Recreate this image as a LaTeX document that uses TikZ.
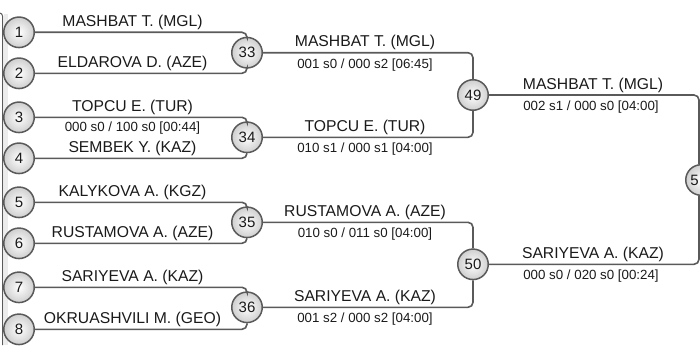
\documentclass[tikz,border=0pt]{standalone}
\usepackage{fontspec}
\setmainfont{Liberation Sans}
\usetikzlibrary{calc}
\definecolor{ln}{HTML}{5A5A5A}
\definecolor{tx}{HTML}{1A1A1A}
\begin{document}
\begin{tikzpicture}[x=1pt,y=-1pt,
  circ/.style={circle,draw=ln,line width=1.5pt,minimum size=30.5pt,inner sep=0pt,
    inner color=white,outer color=gray!38,font=\fontsize{15}{15}\selectfont,text=tx},
  conn/.style={draw=ln,line width=1.6pt,rounded corners=5pt},
  nm/.style={anchor=base,inner sep=0pt,font=\fontsize{15.7}{16}\selectfont,text=tx},
  sc/.style={anchor=base,inner sep=0pt,font=\fontsize{13.3}{14}\selectfont,text=tx},
  plain/.style={inner sep=0pt,font=\fontsize{15}{15}\selectfont,text=tx}]
\useasboundingbox (0,0) rectangle (700,345);
% left edge remnant
\fill[gray!15] (3.5,14) rectangle (8,345);
\draw[ln,line width=1pt,rounded corners=3pt] (0,13) -- (2.5,13) -- (2.5,345);
% seeds
\node[circ] (s1) at (19,32.3) {1};
\node[circ] (s2) at (19,73.3) {2};
\node[circ] (s3) at (19,117.3) {3};
\node[circ] (s4) at (19,158.3) {4};
\node[circ] (s5) at (19,202.3) {5};
\node[circ] (s6) at (19,243.3) {6};
\node[circ] (s7) at (19,287.3) {7};
\node[circ] (s8) at (19,329.3) {8};
% round 2
\node[circ] (m33) at (247,52.7) {33};
\node[circ] (m34) at (247,137.3) {34};
\node[circ] (m35) at (247,222.3) {35};
\node[circ] (m36) at (247,307.3) {36};
% round 3
\node[circ] (m49) at (473,95) {49};
\node[circ] (m50) at (473,264.3) {50};
% final (cropped)
\node[circ] (fin) at (701,180) {};
\node[plain] (fin5) at (694.5,180) {5};
% connectors
\draw[conn] (s1) -| (m33);
\draw[conn] (s2) -| (m33);
\draw[conn] (s3) -| (m34);
\draw[conn] (s4) -| (m34);
\draw[conn] (s5) -| (m35);
\draw[conn] (s6) -| (m35);
\draw[conn] (s7) -| (m36);
\draw[conn] (s8) -| (m36);
\draw[conn] (m33) -| (m49);
\draw[conn] (m34) -| (m49);
\draw[conn] (m35) -| (m50);
\draw[conn] (m36) -| (m50);
\draw[conn] (m49) -| ([xshift=-2pt]fin.north);
\draw[conn] (m50) -| ([xshift=-2pt]fin.south);
% seed names
\node[nm] (t1) at (132.5,26.3) {MASHBAT T. (MGL)};
\node[nm] (t2) at (132.5,67.3) {ELDAROVA D. (AZE)};
\node[nm] (t3) at (132.5,111.3) {TOPCU E. (TUR)};
\node[sc] (r34) at (132.5,131.8) {000 s0 / 100 s0 [00:44]};
\node[nm] (t4) at (132.5,152.3) {SEMBEK Y. (KAZ)};
\node[nm] (t5) at (132.5,196.3) {KALYKOVA A. (KGZ)};
\node[nm] (t6) at (132.5,237.3) {RUSTAMOVA A. (AZE)};
\node[nm] (t7) at (132.5,281.3) {SARIYEVA A. (KAZ)};
\node[nm] (t8) at (132.5,323.3) {OKRUASHVILI M. (GEO)};
% round 2 names and scores
\node[nm] (u33) at (365,46.7) {MASHBAT T. (MGL)};
\node[sc] (v33) at (365,68.2) {001 s0 / 000 s2 [06:45]};
\node[nm] (u34) at (365,131.3) {TOPCU E. (TUR)};
\node[sc] (v34) at (365,152.8) {010 s1 / 000 s1 [04:00]};
\node[nm] (u35) at (365,216.3) {RUSTAMOVA A. (AZE)};
\node[sc] (v35) at (365,237.8) {010 s0 / 011 s0 [04:00]};
\node[nm] (u36) at (365,301.3) {SARIYEVA A. (KAZ)};
\node[sc] (v36) at (365,322.8) {001 s2 / 000 s2 [04:00]};
% round 3 names and scores
\node[nm] (u49) at (593,89.2) {MASHBAT T. (MGL)};
\node[sc] (v49) at (591,110.5) {002 s1 / 000 s0 [04:00]};
\node[nm] (u50) at (593,258.3) {SARIYEVA A. (KAZ)};
\node[sc] (v50) at (591,279.8) {000 s0 / 020 s0 [00:24]};
\end{tikzpicture}
\end{document}
